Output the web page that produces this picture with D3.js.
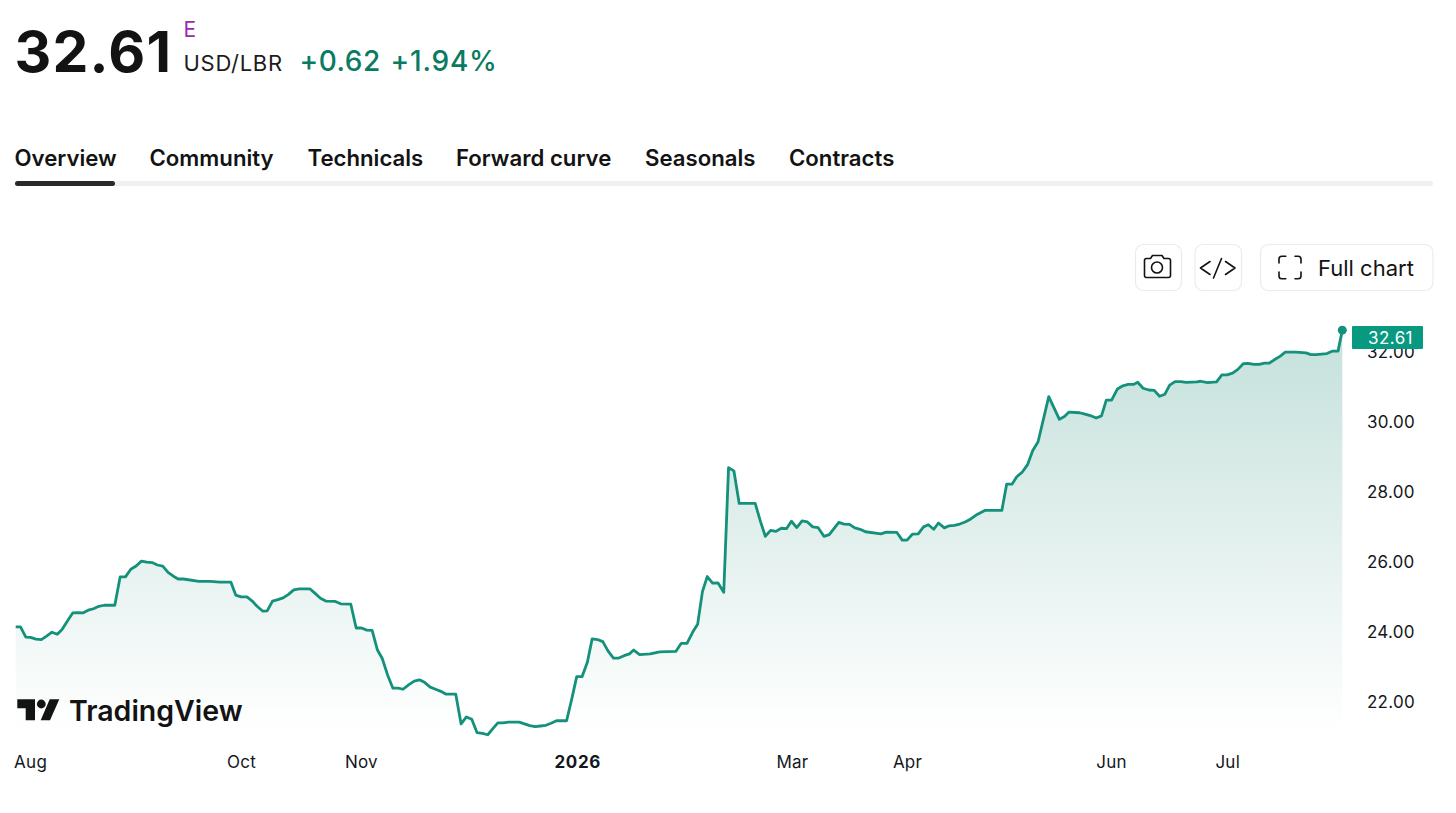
<!DOCTYPE html>
<html>
<head>
<meta charset="utf-8">
<script src="https://cdn.jsdelivr.net/npm/d3@7"></script>
<style>
  html, body { margin: 0; padding: 0; background: #fff; }
  text { font-family: Inter, "Noto Sans", sans-serif; }
  .axis path, .axis line { display: none; }
  .axis text { font-family: Inter, "Noto Sans", sans-serif; font-size: 17px; fill: #131722; letter-spacing: 0.25px; }
</style>
</head>
<body>
<div id="chart"></div>
<script>
// session number along the time axis
const sessions = [
  0, 0.9, 1.9, 2.8, 3.8, 4.8, 5.8, 6.8, 7.8, 8.7, 9.8, 10.7, 11.6, 12.6, 13.6, 14.6, 15.6, 16.6, 18.6, 19.6,
  20.6, 21.6, 22.6, 23.6, 24.6, 25.6, 26.6, 27.6, 28.6, 29.6, 30.5, 31.5, 34.4, 36.5, 38.3, 40.4, 41.3, 42.3, 43.4, 44.4,
  45.3, 46.4, 47.2, 48.2, 49.2, 50.2, 51.2, 52.2, 53.2, 55.2, 56.2, 57.2, 58.2, 60, 61, 62.9, 63.9, 64.9, 65.9, 66.9,
  67.9, 68.8, 69.8, 70.8, 71.8, 72.7, 73.8, 74.8, 75.8, 76.8, 77.8, 78.8, 79.8, 80.8, 82.6, 83.6, 84.6, 85.6, 86.6, 87.6,
  88.6, 89.6, 90.5, 91.5, 92.5, 94.5, 95.5, 96.5, 97.5, 98.5, 99.5, 100.5, 101.5, 103.4, 104.4, 105.3, 106.3, 107.3, 108.2, 109.2,
  110.2, 111.2, 112.2, 113.2, 114.2, 115.2, 116, 117.1, 119.1, 120.9, 123.9, 124.9, 126, 127.1, 128, 128.9, 129.8, 130.8, 131.8, 132.9,
  133.8, 134.8, 135.8, 138.8, 139.8, 140.7, 141.7, 142.7, 143.7, 144.7, 145.6, 146.6, 147.6, 148.6, 149.6, 150.6, 151.7, 152.7, 154.5, 155.5,
  156.5, 157.5, 158.5, 159.5, 162.4, 163.4, 165.4, 166.4, 167.3, 168.3, 169.4, 170.4, 171.3, 172.3, 173.2, 174.3, 175.2, 176.2, 177.2, 178.2,
  179.2, 180.2, 181.9, 185.1, 186, 187, 187.9, 188.9, 189.9, 190.9, 191.9, 193.9, 195.9, 196.9, 197.7, 199.7, 200.7, 201.7, 202.8, 203.8,
  204.7, 205.7, 206.8, 207.8, 208.8, 209.8, 210.6, 211.6, 212.7, 213.7, 214.7, 215.7, 216.6, 217.6, 218.7, 219.7, 221.7, 222.4, 223.7, 225.4,
  226.4, 227.4, 228.4, 229.4, 230.4, 231.3, 232.4, 233.4, 234.4, 235.3, 236.3, 237.3, 238.3, 240.3, 242.2, 243.1, 244.1, 246.1, 247.1, 248.2, 249
];
const prices = [
  24.13, 24.13, 23.84, 23.83, 23.78, 23.77, 23.87, 23.98, 23.92, 24.06, 24.32, 24.53, 24.54, 24.53, 24.61, 24.65, 24.72, 24.75, 24.75, 25.56,
  25.56, 25.78, 25.87, 26.01, 25.98, 25.97, 25.90, 25.87, 25.69, 25.58, 25.50, 25.50, 25.43, 25.43, 25.41, 25.41, 25.04, 24.99, 24.99, 24.87,
  24.72, 24.58, 24.59, 24.87, 24.91, 24.96, 25.06, 25.19, 25.22, 25.22, 25.09, 24.95, 24.87, 24.86, 24.79, 24.78, 24.10, 24.10, 24.04, 24.03,
  23.47, 23.23, 22.76, 22.38, 22.38, 22.35, 22.48, 22.58, 22.62, 22.54, 22.41, 22.35, 22.29, 22.21, 22.21, 21.36, 21.56, 21.49, 21.11, 21.09,
  21.05, 21.23, 21.39, 21.39, 21.41, 21.41, 21.36, 21.31, 21.28, 21.30, 21.32, 21.38, 21.45, 21.45, 22.09, 22.71, 22.71, 23.12, 23.79, 23.77,
  23.71, 23.44, 23.24, 23.24, 23.31, 23.36, 23.47, 23.34, 23.36, 23.42, 23.43, 23.66, 23.66, 23.99, 24.21, 25.14, 25.57, 25.38, 25.39, 25.12,
  28.68, 28.59, 27.66, 27.66, 27.14, 26.72, 26.89, 26.86, 26.95, 26.94, 27.15, 26.97, 27.16, 27.13, 26.99, 26.97, 26.72, 26.77, 27.12, 27.07,
  27.06, 26.96, 26.92, 26.85, 26.79, 26.84, 26.83, 26.61, 26.61, 26.78, 26.79, 26.99, 27.05, 26.92, 27.10, 26.96, 27.02, 27.03, 27.07, 27.13,
  27.21, 27.32, 27.46, 27.46, 28.21, 28.21, 28.42, 28.55, 28.76, 29.17, 29.42, 30.71, 30.06, 30.15, 30.27, 30.25, 30.21, 30.17, 30.10, 30.16,
  30.61, 30.61, 30.93, 31.02, 31.06, 31.06, 31.12, 30.95, 30.90, 30.89, 30.72, 30.78, 31.04, 31.14, 31.14, 31.12, 31.13, 31.15, 31.11, 31.13,
  31.33, 31.33, 31.38, 31.49, 31.65, 31.66, 31.63, 31.63, 31.67, 31.67, 31.77, 31.86, 31.98, 31.98, 31.96, 31.91, 31.91, 31.94, 32.01, 32.01, 32.61
];
const priceTicks = [22, 24, 26, 28, 30, 32];
const timeTickSessions = [2.7, 42.3, 64.8, 105.4, 145.7, 167.3, 205.6, 227.4];
const timeTickLabels = ["Aug", "Oct", "Nov", "2026", "Mar", "Apr", "Jun", "Jul"];
const tabLabels = ["Overview", "Community", "Technicals", "Forward curve", "Seasonals", "Contracts"];
const tabLefts = [14.5, 149.5, 307.5, 456, 645, 789];

const width = 1456, height = 813;
const lineColor = "#14917a";
const greenText = "#0b7a62";

const svg = d3.select("#chart").append("svg")
  .attr("width", width)
  .attr("height", height)
  .style("display", "block");

let x = d3.scaleLinear().domain([0, 249]).range([15.7, 1342.3]);
let y = d3.scaleLinear().domain([22, 32]).range([701.5, 351.5]);

// header
svg.append("text").attr("x", 14.5).attr("y", 72).attr("font-size", 57).attr("font-weight", 700)
  .attr("letter-spacing", 1.2).attr("fill", "#131313").text("32.61");
svg.append("text").attr("x", 183.5).attr("y", 37).attr("font-size", 21).attr("fill", "#9c27b0").text("E");
svg.append("text").attr("x", 183.5).attr("y", 71).attr("font-size", 22).attr("letter-spacing", 0.7)
  .attr("fill", "#1c1c1c").text("USD/LBR");
svg.append("text").attr("x", 299.5).attr("y", 71).attr("font-size", 28).attr("font-weight", 500)
  .attr("letter-spacing", 0.5).attr("fill", greenText).text("+0.62");
svg.append("text").attr("x", 390.5).attr("y", 71).attr("font-size", 28).attr("font-weight", 500)
  .attr("letter-spacing", 0.8).attr("fill", greenText).text("+1.94%");

// tabs
svg.selectAll(".tab").data(tabLabels).enter().append("text")
  .attr("class", "tab")
  .attr("x", (d, i) => tabLefts[i])
  .attr("y", 166)
  .attr("font-size", 22.2)
  .attr("font-weight", 600)
  .attr("fill", "#131313")
  .text(d => d);
svg.append("rect").attr("x", 15).attr("y", 181).attr("width", 1418).attr("height", 5).attr("rx", 2.5).attr("fill", "#f0f0f0");
svg.append("rect").attr("x", 15).attr("y", 181).attr("width", 100).attr("height", 5).attr("rx", 2.5).attr("fill", "#2a2a2a");

// toolbar buttons
function button(left, w) {
  svg.append("rect").attr("x", left + 0.5).attr("y", 244.5).attr("width", w).attr("height", 46).attr("rx", 8)
    .attr("fill", "#fff").attr("stroke", "#ebebeb").attr("stroke-width", 1.2);
}
button(1135, 46);
button(1194.5, 46.5);
button(1260, 172.5);
const icons = svg.append("g").attr("fill", "none").attr("stroke", "#131313").attr("stroke-width", 1.6)
  .attr("stroke-linecap", "round").attr("stroke-linejoin", "round");
icons.append("path").attr("d", "M1146 258.500h4.500l2-3h9.500l2 3h4.500q2 0 2 2v15q0 2-2 2h-22q-2 0-2-2v-15q0-2 2-2z");
icons.append("circle").attr("cx", 1157).attr("cy", 267.500).attr("r", 5.500);
icons.append("path").attr("d", "M1210 261.500L1200.500 268L1210 274.500M1225.500 261.500L1235 268L1225.500 274.500M1221.500 258.500L1213.500 278");
icons.append("path").attr("d", "M1279 263v-4q0-2.800 2.800-2.800h4M1295 256.200h3q3 0 3 2.800v4M1279 272v4q0 2.800 2.800 2.800h4M1295 278.800h3q3 0 3-2.800v-4");
svg.append("text").attr("x", 1318).attr("y", 276).attr("font-size", 22).attr("fill", "#131313").text("Full chart");

// area + line
let grad = svg.append("defs").append("linearGradient").attr("id", "areaFill")
  .attr("gradientUnits", "userSpaceOnUse")
  .attr("x1", 0).attr("x2", 0).attr("y1", y(32.61)).attr("y2", 732);
grad.append("stop").attr("offset", 0).attr("stop-color", "#0b8069").attr("stop-opacity", 0.24);
grad.append("stop").attr("offset", 1).attr("stop-color", "#0b8069").attr("stop-opacity", 0);

let area = d3.area()
  .x((d, i) => x(sessions[i]))
  .y0(732)
  .y1(d => y(d));
let line = d3.line()
  .x((d, i) => x(sessions[i]))
  .y(d => y(d));

svg.append("path").datum(prices).attr("d", area).attr("fill", "url(#areaFill)");
svg.append("path").datum(prices).attr("d", line).attr("fill", "none")
  .attr("stroke", lineColor).attr("stroke-width", 2.8).attr("stroke-linejoin", "round");
svg.append("circle").attr("cx", x(249)).attr("cy", y(32.61)).attr("r", 4.5).attr("fill", lineColor);

// axes
svg.append("g").attr("class", "axis").attr("transform", "translate(1367,1)")
  .call(d3.axisRight(y).tickValues(priceTicks).tickSize(0).tickPadding(0).tickFormat(d3.format(".2f")));

let xAxis = svg.append("g").attr("class", "axis").attr("transform", "translate(0,756)")
  .call(d3.axisBottom(x).tickValues(timeTickSessions).tickSize(0).tickPadding(0)
    .tickFormat((d, i) => timeTickLabels[i]));
xAxis.selectAll("text").filter((d, i) => timeTickLabels[i] === "2026")
  .attr("font-weight", 700).style("letter-spacing", "0.7px");

// last price tag
svg.append("rect").attr("x", 1352).attr("y", 326).attr("width", 71).attr("height", 23).attr("rx", 1).attr("fill", "#089981");
svg.append("text").attr("x", 1390.5).attr("y", 343.5).attr("text-anchor", "middle").attr("font-size", 17)
  .attr("letter-spacing", 0.4).attr("fill", "#fff").text("32.61");

// TradingView logo
let logo = svg.append("g").attr("fill", "#131313");
logo.append("path").attr("d", "M17.300 699.300H35V720.300H25.700V708.300H17.300Z");
logo.append("circle").attr("cx", 41.300).attr("cy", 704).attr("r", 4.400);
logo.append("path").attr("d", "M49.700 699.300H59.300L50 720.300H40.700Z");
logo.append("text").attr("x", 69).attr("y", 720.500).attr("font-size", 28.500).attr("font-weight", 600)
  .text("TradingView");
</script>
</body>
</html>
